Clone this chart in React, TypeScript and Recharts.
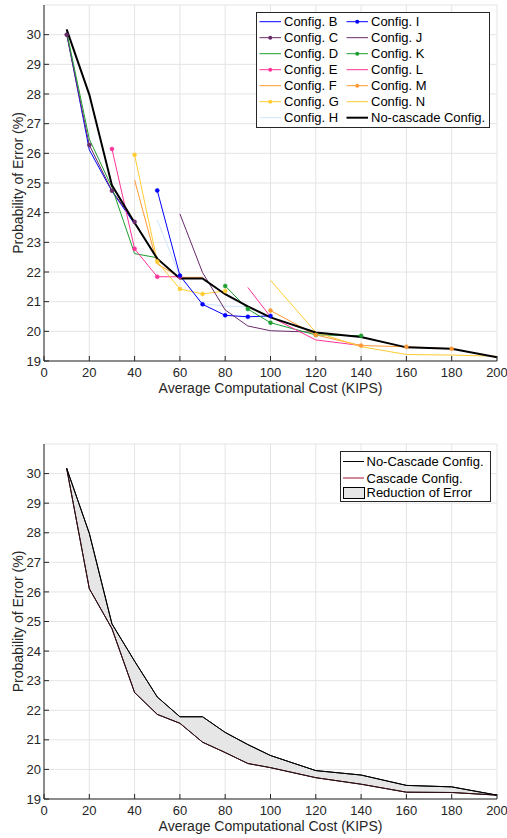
import { ComposedChart, Line, Area, XAxis, YAxis, CartesianGrid } from 'recharts'

// cost points (KIPS) shared by every series
const cost = [10, 20, 30, 40, 50, 60, 70, 80, 90, 100, 120, 140, 160, 180, 200]
const xTicks = [0, 20, 40, 60, 80, 100, 120, 140, 160, 180, 200]
const yTicks = [19, 20, 21, 22, 23, 24, 25, 26, 27, 28, 29, 30]

const noCascade = [30.18, 27.98, 24.92, 23.66, 22.45, 21.78, 21.78, 21.25, 20.84, 20.47, 19.96, 19.81, 19.46, 19.41, 19.13]
const cascade = [30.18, 26.11, 24.76, 22.6, 21.86, 21.56, 20.92, 20.57, 20.2, 20.06, 19.72, 19.5, 19.23, 19.22, 19.13]

const _ = null
const configB = [30.05, 26.12, 24.72, 23.62, _, _, _, _, _, _, _, _, _, _, _]
const configC = [30.0, 26.28, 24.74, 23.69, _, _, _, _, _, _, _, _, _, _, _]
const configD = [30.1, 26.48, 24.85, 22.62, 22.48, _, _, _, _, _, _, _, _, _, _]
const configE = [_, _, 26.15, 22.78, 21.84, 21.84, _, _, _, _, _, _, _, _, _]
const configF = [_, _, _, 25.1, 22.27, 21.82, 21.82, _, _, _, _, _, _, _, _]
const configG = [_, _, _, 25.95, 22.35, 21.43, 21.26, 21.36, _, _, _, _, _, _, _]
const configH = [_, _, _, _, 23.75, 21.85, 20.93, 20.85, 20.83, _, _, _, _, _, _]
const configI = [_, _, _, _, 24.75, 21.88, 20.91, 20.54, 20.49, 20.52, _, _, _, _, _]
const configJ = [_, _, _, _, _, 23.96, 21.98, 20.72, 20.18, 20.02, 19.97, _, _, _, _]
const configK = [_, _, _, _, _, _, _, 21.53, 20.75, 20.29, 19.88, 19.85, _, _, _]
const configL = [_, _, _, _, _, _, _, _, 21.48, 20.49, 19.71, 19.52, _, _, _]
const configM = [_, _, _, _, _, _, _, _, _, 20.7, 19.88, 19.52, 19.48, 19.41, _]
const configN = [_, _, _, _, _, _, _, _, _, 21.72, 19.97, 19.48, 19.22, 19.2, 19.16]

const BLUE = '#0000ff'
const PURPLE = '#6a2b6a'
const GREEN = '#1f9e32'
const PINK = '#ff3399'
const ORANGE = '#ff9933'
const YELLOW = '#ffcc33'
const LIGHTBLUE = '#cfe6fb'

const configs = [
  { key: 'B', name: 'Config. B', values: configB, color: BLUE, marker: false },
  { key: 'C', name: 'Config. C', values: configC, color: PURPLE, marker: true },
  { key: 'D', name: 'Config. D', values: configD, color: GREEN, marker: false },
  { key: 'E', name: 'Config. E', values: configE, color: PINK, marker: true },
  { key: 'F', name: 'Config. F', values: configF, color: ORANGE, marker: false },
  { key: 'G', name: 'Config. G', values: configG, color: YELLOW, marker: true },
  { key: 'H', name: 'Config. H', values: configH, color: LIGHTBLUE, marker: false },
  { key: 'I', name: 'Config. I', values: configI, color: BLUE, marker: true },
  { key: 'J', name: 'Config. J', values: configJ, color: PURPLE, marker: false },
  { key: 'K', name: 'Config. K', values: configK, color: GREEN, marker: true },
  { key: 'L', name: 'Config. L', values: configL, color: PINK, marker: false },
  { key: 'M', name: 'Config. M', values: configM, color: ORANGE, marker: true },
  { key: 'N', name: 'Config. N', values: configN, color: YELLOW, marker: false },
]

const topData = cost.map((c, i) => {
  const row: Record<string, number | null> = { cost: c, noCascade: noCascade[i] }
  configs.forEach((cfg) => {
    row[cfg.key] = cfg.values[i]
  })
  return row
})

const bottomData = cost.map((c, i) => ({
  cost: c,
  noCascade: noCascade[i],
  cascade: cascade[i],
  band: [cascade[i], noCascade[i]],
}))

const FONT = '"Liberation Sans", Arial, Helvetica, sans-serif'
const AXIS = '#262626'
const GRID = '#e4e4e4'

const XLabel = ({ viewBox }: any) => (
  <text
    x={viewBox.x + viewBox.width / 2}
    y={viewBox.y + 32}
    textAnchor="middle"
    fontSize={14}
    fill={AXIS}
    fontFamily={FONT}
  >
    Average Computational Cost (KIPS)
  </text>
)

const YLabel = ({ viewBox }: any) => {
  const cy = viewBox.y + viewBox.height / 2
  return (
    <text
      x={18}
      y={cy + 5}
      transform={`rotate(-90 18 ${cy})`}
      textAnchor="middle"
      fontSize={14}
      fill={AXIS}
      fontFamily={FONT}
    >
      Probability of Error (%)
    </text>
  )
}

// MATLAB-like box: ticks pointing inward on all four sides
function frame() {
  return [
    <CartesianGrid key="grid" stroke={GRID} strokeWidth={1} />,
    <XAxis
      key="xb"
      type="number"
      dataKey="cost"
      domain={[0, 200]}
      ticks={xTicks}
      height={39}
      tickSize={-5}
      tickMargin={11.5}
      stroke={AXIS}
      tick={{ fill: AXIS, fontSize: 13, fontFamily: FONT }}
      label={<XLabel />}
    />,
    <XAxis
      key="xt"
      xAxisId="top"
      orientation="top"
      type="number"
      dataKey="cost"
      domain={[0, 200]}
      ticks={xTicks}
      height={0}
      mirror
      tickSize={5}
      tickFormatter={() => ''}
      stroke={AXIS}
    />,
    <YAxis
      key="yl"
      type="number"
      domain={[19, 31]}
      ticks={yTicks}
      width={30}
      tickSize={-5}
      tickMargin={8}
      stroke={AXIS}
      allowDataOverflow
      tick={{ fill: AXIS, fontSize: 13, fontFamily: FONT }}
      label={<YLabel />}
    />,
    <YAxis
      key="yr"
      yAxisId="right"
      orientation="right"
      type="number"
      domain={[19, 31]}
      ticks={yTicks}
      width={0}
      mirror
      tickSize={5}
      tickFormatter={() => ''}
      stroke={AXIS}
    />,
  ]
}

function TopLegend() {
  const rowY = (i: number) => 9.7 + 16 * i
  const entries = [
    ...configs.map((c) => ({ name: c.name, color: c.color, marker: c.marker, width: 1 })),
    { name: 'No-cascade Config.', color: '#000', marker: false, width: 2 },
  ]
  return (
    <svg
      width={234}
      height={116}
      style={{ position: 'absolute', left: 256, top: 11.5 }}
    >
      <rect x={0.5} y={0.5} width={233} height={115} fill="#fff" stroke={AXIS} />
      {entries.map((e, idx) => {
        const col = idx < 7 ? 0 : 1
        const row = idx < 7 ? idx : idx - 7
        const x0 = col === 0 ? 3.5 : 90.5
        const y = rowY(row)
        return (
          <g key={e.name}>
            <line x1={x0} x2={x0 + 21.5} y1={y} y2={y} stroke={e.color} strokeWidth={e.width} />
            {e.marker && <circle cx={x0 + 10.75} cy={y} r={2} fill={e.color} />}
            <text x={x0 + 24.5} y={y + 4.6} fontSize={13} fontFamily={FONT} fill="#000">
              {e.name}
            </text>
          </g>
        )
      })}
    </svg>
  )
}

function BottomLegend() {
  return (
    <svg width={151} height={51} style={{ position: 'absolute', left: 340, top: 50.5 }}>
      <rect x={0.5} y={0.5} width={150} height={50} fill="#fff" stroke={AXIS} />
      <line x1={3} x2={24} y1={10.5} y2={10.5} stroke="#000" strokeWidth={1} />
      <text x={26.5} y={15.1} fontSize={13} fontFamily={FONT} fill="#000">
        No-Cascade Config.
      </text>
      <line x1={3} x2={24} y1={27} y2={27} stroke="#a2142f" strokeWidth={1} />
      <text x={26.5} y={31.6} fontSize={13} fontFamily={FONT} fill="#000">
        Cascade Config.
      </text>
      <rect x={3.5} y={36.5} width={21} height={11} fill="#e6e6e6" stroke="#000" />
      <text x={26.5} y={46.4} fontSize={13} fontFamily={FONT} fill="#000">
        Reduction of Error
      </text>
    </svg>
  )
}

export default function App() {
  return (
    <div
      style={{
        position: 'absolute',
        left: 0,
        top: 0,
        width: 507,
        height: 838,
        background: '#fff',
        fontFamily: FONT,
        overflow: 'hidden',
      }}
    >
      <div style={{ position: 'relative', width: 507, height: 400 }}>
        <ComposedChart
          width={507}
          height={400}
          data={topData}
          margin={{ top: 5, right: 10, bottom: 0, left: 14 }}
        >
          {frame()}
          {configs.map((cfg) => (
            <Line
              key={cfg.key}
              type="linear"
              dataKey={cfg.key}
              name={cfg.name}
              stroke={cfg.color}
              strokeWidth={1}
              dot={cfg.marker ? { r: 2, fill: cfg.color, stroke: cfg.color, strokeWidth: 0.5 } : false}
              activeDot={false}
              isAnimationActive={false}
            />
          ))}
          <Line
            type="linear"
            dataKey="noCascade"
            name="No-cascade Config."
            stroke="#000"
            strokeWidth={2}
            dot={false}
            activeDot={false}
            isAnimationActive={false}
          />
        </ComposedChart>
        <TopLegend />
      </div>
      <div style={{ position: 'relative', width: 507, height: 438 }}>
        <ComposedChart
          width={507}
          height={438}
          data={bottomData}
          margin={{ top: 44, right: 10, bottom: 0, left: 14 }}
        >
          {frame()}
          <Area
            type="linear"
            dataKey="band"
            name="Reduction of Error"
            fill="#e6e6e6"
            fillOpacity={1}
            stroke="#000"
            strokeWidth={1}
            dot={false}
            activeDot={false}
            isAnimationActive={false}
          />
          <Line
            type="linear"
            dataKey="cascade"
            name="Cascade Config."
            stroke="#3a0d14"
            strokeWidth={1}
            dot={false}
            activeDot={false}
            isAnimationActive={false}
          />
          <Line
            type="linear"
            dataKey="noCascade"
            name="No-Cascade Config."
            stroke="#000"
            strokeWidth={1}
            dot={false}
            activeDot={false}
            isAnimationActive={false}
          />
        </ComposedChart>
        <BottomLegend />
      </div>
    </div>
  )
}
